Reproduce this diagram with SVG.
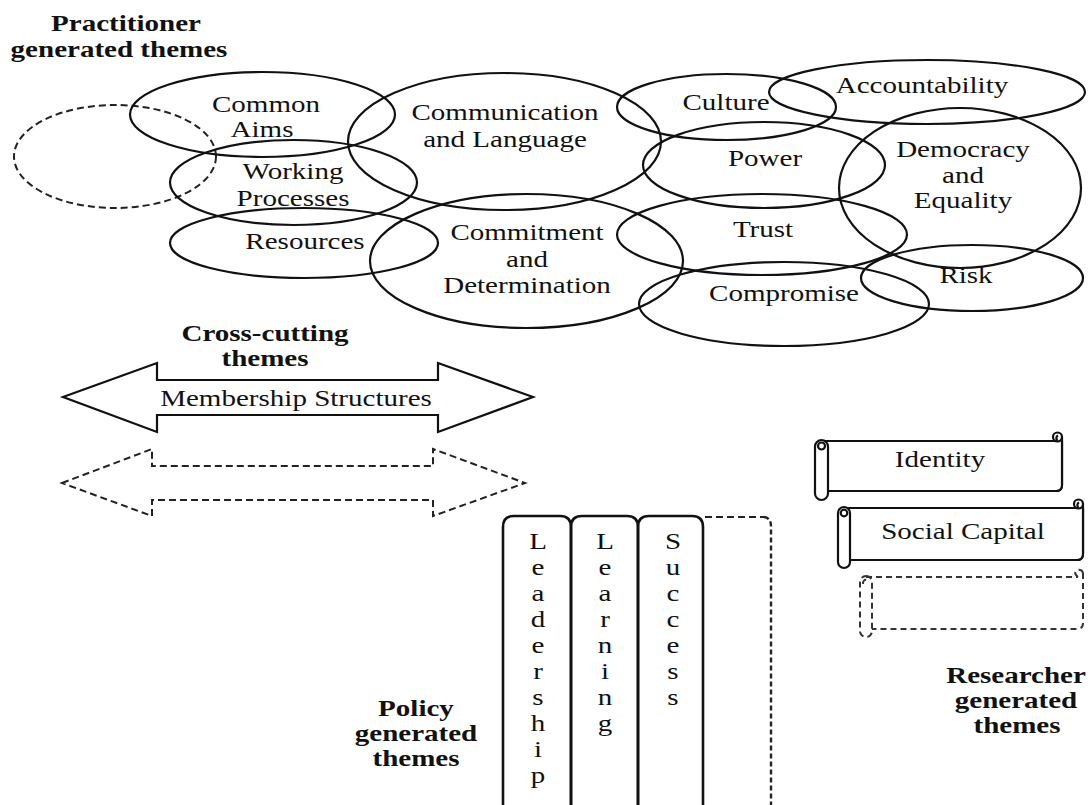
<svg xmlns="http://www.w3.org/2000/svg" width="1090" height="805" viewBox="0 0 1090 805">
  <style>
    .t { font-family: "Liberation Serif", "Times New Roman", serif; font-size: 24px; fill: #111; text-anchor: middle; }
    .b { font-weight: bold; }
    .ring { fill: none; stroke: #111; stroke-width: 2.2; }
    .dash { fill: none; stroke: #222; stroke-width: 2; stroke-dasharray: 7 4; }
    .col { fill: none; stroke: #111; stroke-width: 2.6; }
    .dot { fill: none; stroke: #222; stroke-width: 2.4; stroke-dasharray: 5 3; }
    .scroll { fill: #fff; stroke: #111; stroke-width: 2.2; stroke-linejoin: round; }
    .scrolld { fill: none; stroke: #333; stroke-width: 2; stroke-dasharray: 6 4; stroke-linejoin: round; }
  </style>

  <rect width="1090" height="805" fill="#fff"/>

  <!-- Section headings (text is set slightly wide) -->
  <g id="heading-practitioner">
    <text class="t b" transform="translate(126 31) scale(1.21 1)">Practitioner</text>
    <text class="t b" transform="translate(119 57) scale(1.21 1)">generated themes</text>
  </g>
  <g id="heading-crosscutting">
    <text class="t b" transform="translate(265 341) scale(1.21 1)">Cross-cutting</text>
    <text class="t b" transform="translate(265 366) scale(1.21 1)">themes</text>
  </g>
  <g id="heading-policy">
    <text class="t b" transform="translate(416 716) scale(1.21 1)">Policy</text>
    <text class="t b" transform="translate(416 741) scale(1.21 1)">generated</text>
    <text class="t b" transform="translate(416 766) scale(1.21 1)">themes</text>
  </g>
  <g id="heading-researcher">
    <text class="t b" transform="translate(1016 683) scale(1.21 1)">Researcher</text>
    <text class="t b" transform="translate(1016 708) scale(1.21 1)">generated</text>
    <text class="t b" transform="translate(1017 733) scale(1.21 1)">themes</text>
  </g>

  <!-- Practitioner themes: overlapping ellipses -->
  <g id="theme-open">
    <ellipse class="dash" cx="115" cy="156.5" rx="101" ry="51.5"/>
  </g>
  <g id="theme-common-aims">
    <ellipse class="ring" cx="262.5" cy="114.5" rx="132.5" ry="42.5"/>
    <text class="t" transform="translate(266 112) scale(1.21 1)">Common</text>
    <text class="t" transform="translate(262 137) scale(1.21 1)">Aims</text>
  </g>
  <g id="theme-working-processes">
    <ellipse class="ring" cx="293.5" cy="182.5" rx="123.5" ry="42.5"/>
    <text class="t" transform="translate(293 179) scale(1.21 1)">Working</text>
    <text class="t" transform="translate(293 206) scale(1.21 1)">Processes</text>
  </g>
  <g id="theme-resources">
    <ellipse class="ring" cx="304" cy="243" rx="134" ry="35"/>
    <text class="t" transform="translate(305 249) scale(1.21 1)">Resources</text>
  </g>
  <g id="theme-communication">
    <ellipse class="ring" cx="504.5" cy="141.5" rx="156.5" ry="68.5"/>
    <text class="t" transform="translate(505 120) scale(1.21 1)">Communication</text>
    <text class="t" transform="translate(505 147) scale(1.21 1)">and Language</text>
  </g>
  <g id="theme-commitment">
    <ellipse class="ring" cx="526.5" cy="261" rx="156.5" ry="67"/>
    <text class="t" transform="translate(527 240) scale(1.21 1)">Commitment</text>
    <text class="t" transform="translate(527 267) scale(1.21 1)">and</text>
    <text class="t" transform="translate(527 293) scale(1.21 1)">Determination</text>
  </g>
  <g id="theme-culture">
    <ellipse class="ring" cx="726.5" cy="107" rx="109.5" ry="33"/>
    <text class="t" transform="translate(726 110) scale(1.21 1)">Culture</text>
  </g>
  <g id="theme-accountability">
    <ellipse class="ring" cx="927" cy="92" rx="158" ry="32"/>
    <text class="t" transform="translate(922 93) scale(1.21 1)">Accountability</text>
  </g>
  <g id="theme-power">
    <ellipse class="ring" cx="764" cy="165" rx="121" ry="43"/>
    <text class="t" transform="translate(765 166) scale(1.21 1)">Power</text>
  </g>
  <g id="theme-democracy">
    <ellipse class="ring" cx="960" cy="188" rx="121" ry="80"/>
    <text class="t" transform="translate(963 157) scale(1.21 1)">Democracy</text>
    <text class="t" transform="translate(963 183) scale(1.21 1)">and</text>
    <text class="t" transform="translate(963 208) scale(1.21 1)">Equality</text>
  </g>
  <g id="theme-trust">
    <ellipse class="ring" cx="762" cy="234.5" rx="145" ry="40.5"/>
    <text class="t" transform="translate(763 237) scale(1.21 1)">Trust</text>
  </g>
  <g id="theme-compromise">
    <ellipse class="ring" cx="784" cy="304" rx="145" ry="42"/>
    <text class="t" transform="translate(784 301) scale(1.21 1)">Compromise</text>
  </g>
  <g id="theme-risk">
    <ellipse class="ring" cx="972" cy="278" rx="111" ry="33"/>
    <text class="t" transform="translate(966 283) scale(1.21 1)">Risk</text>
  </g>

  <!-- Cross-cutting themes: double-headed block arrows -->
  <g id="cross-membership">
    <path class="ring" stroke-width="2.5" d="M63,397 L157,363 L157,380 L438,380 L438,363 L533,397 L438,432 L438,415 L157,415 L157,432 Z"/>
    <text class="t" transform="translate(296 406) scale(1.21 1)">Membership Structures</text>
  </g>
  <g id="cross-open">
    <path class="dash" d="M62,483 L152,449 L152,466 L433,466 L433,449 L525,483 L433,516 L433,500 L152,500 L152,516 Z"/>
  </g>

  <!-- Policy themes: vertical tabs -->
  <g id="policy-leadership">
    <path class="col" d="M503,812 V527 Q503,516 514,516 H560 Q571,516 571,527 V812"/>
    <text class="t" transform="translate(538 549) scale(1.21 1)"><tspan x="0">L</tspan><tspan x="0" dy="26">e</tspan><tspan x="0" dy="26">a</tspan><tspan x="0" dy="26">d</tspan><tspan x="0" dy="26">e</tspan><tspan x="0" dy="26">r</tspan><tspan x="0" dy="26">s</tspan><tspan x="0" dy="26">h</tspan><tspan x="0" dy="26">i</tspan><tspan x="0" dy="26">p</tspan></text>
  </g>
  <g id="policy-learning">
    <path class="col" d="M571,812 V527 Q571,516 582,516 H627 Q638,516 638,527 V812"/>
    <text class="t" transform="translate(605 549) scale(1.21 1)"><tspan x="0">L</tspan><tspan x="0" dy="26">e</tspan><tspan x="0" dy="26">a</tspan><tspan x="0" dy="26">r</tspan><tspan x="0" dy="26">n</tspan><tspan x="0" dy="26">i</tspan><tspan x="0" dy="26">n</tspan><tspan x="0" dy="26">g</tspan></text>
  </g>
  <g id="policy-success">
    <path class="col" d="M638,812 V527 Q638,516 649,516 H692 Q703,516 703,527 V812"/>
    <text class="t" transform="translate(673 549) scale(1.21 1)"><tspan x="0">S</tspan><tspan x="0" dy="26">u</tspan><tspan x="0" dy="26">c</tspan><tspan x="0" dy="26">c</tspan><tspan x="0" dy="26">e</tspan><tspan x="0" dy="26">s</tspan><tspan x="0" dy="26">s</tspan></text>
  </g>
  <g id="policy-open">
    <path class="dash" d="M705,517 H764"/>
    <path class="dot" d="M764,517 Q771,518 771,526 V805"/>
  </g>

  <!-- Researcher themes: horizontal scrolls -->
  <g id="research-identity">
    <path class="scroll" stroke="none" d="M822,441 H1062 V485 Q1062,491 1056,491 H822 Z"/>
    <path class="scroll" fill="none" d="M822,441 H1057.5 M1062,437 V485 Q1062,491 1056,491 H828"/>
    <circle class="scroll" cx="1057.5" cy="437" r="4.5"/>
    <path class="scroll" fill="none" d="M1057.5,441.5 Q1055,437 1058,435.5"/>
    <rect class="scroll" x="815" y="440" width="13" height="60" rx="6.5"/>
    <circle class="scroll" cx="821.5" cy="446" r="3.5"/>
    <text class="t" transform="translate(940 467) scale(1.21 1)">Identity</text>
  </g>
  <g id="research-social-capital">
    <path class="scroll" stroke="none" d="M844,508 H1083 V554 Q1083,560 1077,560 H844 Z"/>
    <path class="scroll" fill="none" d="M844,508 H1078.5 M1083,504 V554 Q1083,560 1077,560 H850"/>
    <circle class="scroll" cx="1078.5" cy="504" r="4.5"/>
    <path class="scroll" fill="none" d="M1078.5,508.5 Q1076,504 1079,502.5"/>
    <rect class="scroll" x="838" y="507" width="12" height="61" rx="6"/>
    <circle class="scroll" cx="844" cy="513" r="3.3"/>
    <text class="t" transform="translate(963 539) scale(1.21 1)">Social Capital</text>
  </g>
  <g id="research-open">
    <path class="scrolld" d="M866,577 H1078 M1083,573 V623 Q1083,629 1077,629 H872"/>
    <path class="scrolld" d="M1078,577 Q1073,573 1077,570 Q1082,569 1083,573"/>
    <rect class="scrolld" x="860" y="576" width="12" height="61" rx="6"/>
    <path class="scrolld" d="M863,584 Q863,579 867,580"/>
  </g>
</svg>
